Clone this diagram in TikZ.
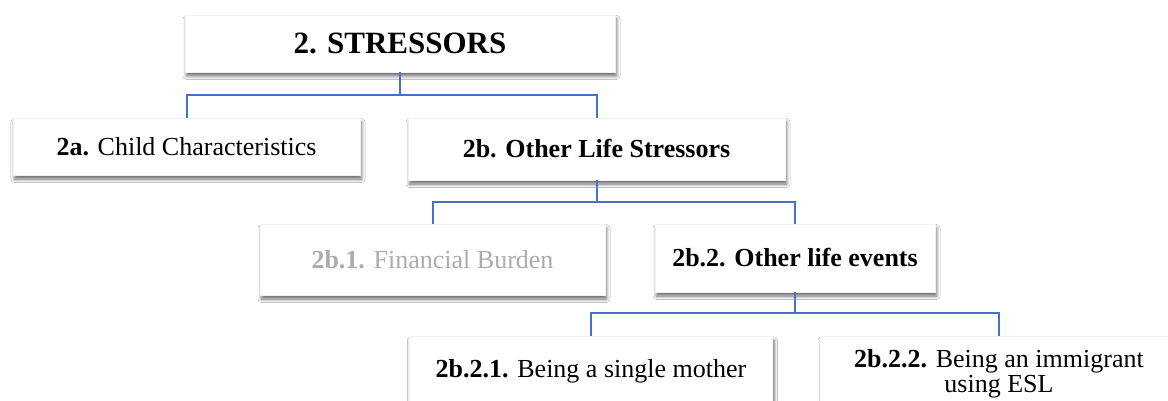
\documentclass[tikz,border=0pt]{standalone}
\usepackage{fontspec}
\setmainfont{Liberation Serif}
\usetikzlibrary{shadows.blur}
\definecolor{connblue}{RGB}{68,114,196}
\definecolor{fadedtext}{RGB}{172,172,172}
\tikzset{
  card/.style={rectangle, fill=white, draw=black!5, line width=0.5pt, inner sep=0pt,
    font=\fontsize{26}{26}\selectfont,
    blur shadow={shadow xshift=1.5pt, shadow yshift=-4pt, shadow blur radius=3.5pt, shadow blur steps=7, shadow opacity=60}},
  conn/.style={draw=connblue, line width=2pt},
}
\begin{document}
\begin{tikzpicture}[x=1pt,y=-1pt]
\useasboundingbox[fill=white] (0,0) rectangle (1168,401);
\node[card, minimum width=430pt, minimum height=57pt, font=\fontsize{31}{31}\selectfont\bfseries] (top) at (400,43.5) {2. STRESSORS};
\node[card, minimum width=347pt, minimum height=57pt] (c2a) at (186.5,146.5) {\textbf{2a.} Child Characteristics};
\node[card, minimum width=377pt, minimum height=62pt] (c2b) at (596.5,149) {\textbf{2b. Other Life Stressors}};
\node[card, minimum width=345pt, minimum height=71pt, text=fadedtext] (c2b1) at (432.5,259.5) {\textbf{2b.1.} Financial Burden};
\node[card, minimum width=280pt, minimum height=68pt] (c2b2) at (795,258) {\textbf{2b.2. Other life events}};
\node[card, minimum width=363pt, anchor=north, text height=41pt, text depth=60pt] (c2b21) at (591,336) {\textbf{2b.2.1.} Being a single mother};
\node[card, minimum width=358pt, anchor=north, text height=31pt, text depth=70pt] (c2b22) at (999,336) {\begin{tabular}[t]{@{}c@{}}\textbf{2b.2.2.} Being an immigrant\\[-1pt] using ESL\end{tabular}};
\draw[conn] (top.south) -- ++(0,23) -| (c2a.north);
\draw[conn] (top.south) -- ++(0,23) -| (c2b.north);
\draw[conn] (c2b.south) -- ++(0,22) -| (c2b1.north);
\draw[conn] (c2b.south) -- ++(0,22) -| (c2b2.north);
\draw[conn] (c2b2.south) -- ++(0,21) -| (c2b21.north);
\draw[conn] (c2b2.south) -- ++(0,21) -| (c2b22.north);
\end{tikzpicture}
\end{document}
